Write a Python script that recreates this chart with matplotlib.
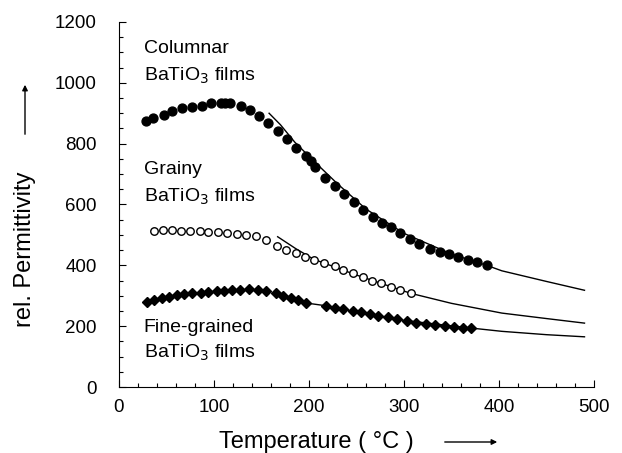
import matplotlib
matplotlib.use("Agg")
import matplotlib.pyplot as plt
from matplotlib.ticker import MultipleLocator

plt.rcParams['font.family'] = ['Liberation Sans', 'DejaVu Sans']

# Columnar BaTiO3 films (filled circles)
col_T = [28, 36, 47, 56, 66, 77, 87, 97, 107, 112, 117, 128, 138, 147, 157, 167, 177, 186, 197, 202, 206,
         217, 227, 237, 247, 257, 267, 277, 286, 296, 306, 316, 327, 338, 347, 357, 367, 377, 387]
col_v = [876, 884, 895, 908, 917, 922, 924, 933, 934, 934, 933, 925, 911, 892, 868, 840, 815, 785, 758, 744, 723,
         688, 662, 635, 608, 582, 560, 540, 525, 507, 488, 470, 455, 444, 436, 428, 419, 410, 402]
col_fit_T = [158, 170, 185, 207, 230, 260, 300, 350, 387, 403, 450, 490]
col_fit_v = [900, 862, 805, 737, 668, 585, 505, 437, 400, 382, 347, 318]

# Grainy BaTiO3 films (open circles)
gr_T = [37, 46, 56, 65, 75, 85, 94, 104, 114, 124, 134, 144, 155, 166, 176, 186, 196, 205,
        216, 227, 236, 246, 257, 266, 276, 286, 296, 307]
gr_v = [514, 515, 515, 514, 513, 512, 511, 509, 507, 504, 500, 495, 483, 462, 450, 441, 429, 418,
        409, 398, 385, 374, 361, 350, 341, 330, 319, 308]
gr_fit_T = [167, 186, 205, 250, 307, 350, 403, 450, 490]
gr_fit_v = [494, 455, 420, 368, 308, 275, 243, 225, 210]

# Fine-grained BaTiO3 films (diamonds)
fg_T = [29, 37, 45, 53, 61, 68, 77, 86, 94, 103, 110, 119, 127, 137, 146, 155, 165, 173, 181, 188, 197,
        218, 227, 236, 246, 255, 264, 273, 283, 293, 303, 313, 323, 333, 343, 353, 362, 370]
fg_v = [280, 285, 291, 296, 301, 305, 308, 310, 313, 316, 317, 319, 320, 321, 320, 316, 309, 300, 292, 285, 275,
        267, 261, 255, 249, 245, 240, 235, 229, 222, 217, 212, 208, 204, 200, 197, 195, 194]
fg_fit_T = [195, 218, 250, 300, 370, 403, 450, 490]
fg_fit_v = [277, 267, 247, 219, 194, 183, 172, 165]

x_ticks = [0, 100, 200, 300, 400, 500]
y_ticks = [0, 200, 400, 600, 800, 1000, 1200]

W, H = 622, 453
fig = plt.figure(figsize=(W/100, H/100), dpi=100)
x0, x1, y0, y1 = 119, 594, 387, 22
ax = fig.add_axes([x0/W, 1-y0/H, (x1-x0)/W, (y0-y1)/H])

ax.plot(col_fit_T, col_fit_v, color='black', lw=1.0, zorder=2)
ax.plot(gr_fit_T, gr_fit_v, color='black', lw=1.0, zorder=2)
ax.plot(fg_fit_T, fg_fit_v, color='black', lw=1.0, zorder=2)

ax.plot(col_T, col_v, 'o', color='black', ms=6.4, zorder=3, ls='none')
ax.plot(gr_T, gr_v, 'o', mfc='white', mec='black', mew=1.0, ms=5.4, zorder=3, ls='none')
ax.plot(fg_T, fg_v, 'D', color='black', ms=5.0, zorder=3, ls='none')

ax.set_xlim(0, 500)
ax.set_ylim(0, 1200)
ax.set_xticks(x_ticks)
ax.set_yticks(y_ticks)
ax.xaxis.set_minor_locator(MultipleLocator(20))
ax.yaxis.set_minor_locator(MultipleLocator(50))
ax.tick_params(which='both', direction='in', labelsize=13.5, width=0.8)
ax.tick_params(which='major', length=5)
ax.tick_params(which='minor', length=3)
ax.tick_params(axis='x', pad=9)
ax.tick_params(axis='y', pad=16)
for s in ['top', 'right']:
    ax.spines[s].set_visible(False)

fs = 14
ax.text(26, 1112, 'Columnar', fontsize=fs, va='center')
ax.text(26, 1023, 'BaTiO$_3$ films', fontsize=fs, va='center')
ax.text(26, 714, 'Grainy', fontsize=fs, va='center')
ax.text(26, 625, 'BaTiO$_3$ films', fontsize=fs, va='center')
ax.text(26, 197, 'Fine-grained', fontsize=fs, va='center')
ax.text(26, 112, 'BaTiO$_3$ films', fontsize=fs, va='center')

fig.text(316/W, 1-442/H, 'Temperature ( °C )', fontsize=17, ha='center', va='center')
fig.text(25/W, 1-249/H, 'rel. Permittivity', fontsize=17, ha='center', va='center', rotation=90)
fig.add_artist(matplotlib.patches.FancyArrowPatch((442/W, 1-442/H), (500/W, 1-442/H),
               transform=fig.transFigure, arrowstyle='-|>', mutation_scale=8, color='black', lw=1))
fig.add_artist(matplotlib.patches.FancyArrowPatch((25/W, 1-137/H), (25/W, 1-82/H),
               transform=fig.transFigure, arrowstyle='-|>', mutation_scale=8, color='black', lw=1))

fig.savefig('out.png', dpi=100)
